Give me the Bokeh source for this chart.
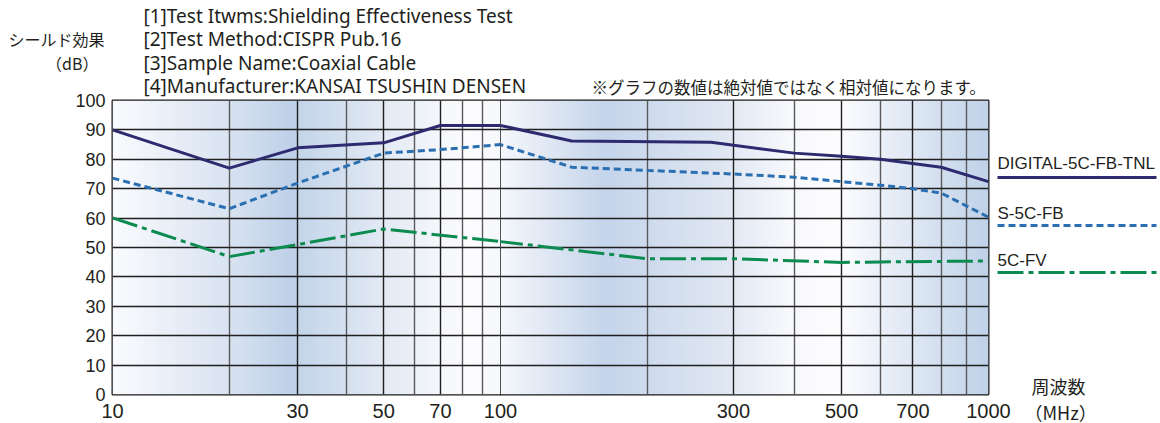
import numpy as np
from bokeh.plotting import figure
from bokeh.layouts import row
from bokeh.models import FixedTicker, Range1d, Grid, BasicTickFormatter
from bokeh.core.properties import value
from bokeh.embed import file_html
from bokeh.resources import INLINE

# ---------------- data ----------------
series_names = ["DIGITAL-5C-FB-TNL", "S-5C-FB", "5C-FV"]
digital_freq = [10, 20, 30, 50, 70, 100, 140, 270, 400, 500, 600, 800, 1000]
digital_db = [90.0, 77.0, 83.9, 85.6, 91.5, 91.5, 86.2, 85.8, 82.1, 81.0, 80.0, 77.3, 72.4]
s5cfb_freq = [10, 20, 30, 50, 70, 100, 140, 300, 400, 500, 600, 700, 800, 1000]
s5cfb_db = [73.6, 63.2, 71.9, 82.1, 83.3, 85.0, 77.3, 75.0, 73.9, 72.4, 71.2, 70.0, 68.5, 60.3]
fv_freq = [10, 20, 30, 50, 100, 200, 300, 500, 600, 1000]
fv_db = [60.1, 46.9, 51.0, 56.3, 52.0, 46.2, 46.2, 44.9, 45.1, 45.4]

x_ticks_low = [10, 30, 50, 70, 100]
x_minor_low = [20, 40, 60, 80, 90]
x_ticks_high = [300, 500, 700, 1000]
x_minor_high = [200, 400, 600, 800, 900]
y_ticks = [0, 10, 20, 30, 40, 50, 60, 70, 80, 90, 100]

header_lines = [
    "[1]Test Itwms:Shielding Effectiveness Test",
    "[2]Test Method:CISPR Pub.16",
    "[3]Sample Name:Coaxial Cable",
    "[4]Manufacturer:KANSAI TSUSHIN DENSEN",
]
y_title = ["シールド効果", "（dB）"]
x_title = ["周波数", "（MHz）"]
note_text = "※グラフの数値は絶対値ではなく相対値になります。"

# ---------------- style ----------------
colors = ["#2d2a70", "#2a6fb2", "#0b8b4f"]
dashes = ["solid", "7 4", "26 5 5 5"]
TXT = "#231f20"
JP = "Noto Sans CJK JP"
LAT = "Liberation Sans"
HDR = "Noto Sans"

W, H = 1160, 423
FRAME_L, FRAME_R, FRAME_T, FRAME_B = 112, 988, 100, 394
SPLIT = 500  # canvas x of 100 MHz

# background gradient stops (canvas px, rgb)
stops = [(112, (250, 251, 254)), (226, (218, 228, 242)), (292, (190, 209, 233)),
         (300, (197, 214, 235)), (386, (228, 235, 245)), (443, (246, 248, 252)),
         (470, (253, 253, 255)), (500, (246, 248, 252)), (605, (197, 213, 235)),
         (718, (222, 230, 242)), (790, (248, 249, 253)), (838, (253, 253, 255)),
         (988, (192, 210, 233))]


def gradient(px0, px1):
    xs = np.arange(px0, px1) + 0.5
    sp = np.array([s[0] for s in stops], float)
    cols = np.array([s[1] for s in stops], float)
    img = np.empty((2, len(xs)), dtype=np.uint32)
    view = img.view(dtype=np.uint8).reshape((2, len(xs), 4))
    for ch in range(3):
        view[:, :, ch] = np.interp(xs, sp, cols[:, ch]).astype(np.uint8)[None, :]
    view[:, :, 3] = 255
    return img


# ---- overlay figure for the free texts and legend (canvas pixel coordinates) ----
p0 = figure(width=W, height=H, output_backend="svg", toolbar_location=None,
            x_range=Range1d(0, W), y_range=Range1d(H, 0),
            x_axis_location=None, y_axis_location=None,
            min_border=0, min_border_left=0, min_border_right=0,
            min_border_top=0, min_border_bottom=0)
if "frame_align" in p0.properties():
    p0.frame_align = False
p0.grid.visible = False
p0.outline_line_color = None
p0.border_fill_color = None
p0.background_fill_color = None

common = dict(output_backend="svg", toolbar_location=None, x_axis_type="log",
              y_range=Range1d(0, 100), height=H, min_border_top=FRAME_T,
              min_border_bottom=H - FRAME_B)

p1 = figure(width=W, x_range=Range1d(10, 100),
            min_border_left=FRAME_L, min_border_right=W - SPLIT, **common)
p1.margin = (0, 0, 0, -W)
p2 = figure(width=W - SPLIT, x_range=Range1d(100, 1000), min_border_left=0,
            min_border_right=W - FRAME_R, y_axis_location=None, **common)
p2.margin = (0, 0, 0, -(W - SPLIT))

for p in (p1, p2):
    p.border_fill_color = None
    p.background_fill_color = None

r1 = p1.image_rgba(image=[gradient(FRAME_L, SPLIT)], x=10, y=0, dw=90, dh=100)
r2 = p2.image_rgba(image=[gradient(SPLIT, FRAME_R)], x=100, y=0, dw=900, dh=100)
r1.level = "image"
r2.level = "image"

for p, ticks, minor in ((p1, x_ticks_low, x_minor_low), (p2, x_ticks_high, x_minor_high)):
    p.outline_line_color = "#1a1a1a"
    p.outline_line_width = 2
    p.xaxis.ticker = FixedTicker(ticks=ticks, minor_ticks=minor)
    p.xaxis.formatter = BasicTickFormatter()
    p.xaxis.axis_line_color = None
    p.xaxis.major_tick_line_color = None
    p.xaxis.minor_tick_line_color = None
    p.xaxis.major_tick_out = 0
    p.xaxis.major_label_standoff = 5
    p.xaxis.major_label_text_font = LAT
    p.xaxis.major_label_text_font_size = "20px"
    p.xaxis.major_label_text_color = TXT
    p.xgrid.grid_line_color = "#1f1f1f"
    p.xgrid.grid_line_width = 1.4
    p.xgrid.minor_grid_line_color = "#5a5a5a"
    p.xgrid.minor_grid_line_width = 1.4

p1.yaxis.ticker = FixedTicker(ticks=y_ticks)
p1.yaxis.axis_line_color = None
p1.yaxis.major_tick_line_color = None
p1.yaxis.minor_tick_line_color = None
p1.yaxis.major_tick_out = 0
p1.yaxis.major_label_standoff = 7
p1.yaxis.major_label_text_font = LAT
p1.yaxis.major_label_text_font_size = "18px"
p1.yaxis.major_label_text_color = TXT
p1.ygrid.grid_line_color = "#1f1f1f"
p1.ygrid.grid_line_width = 1.4

p2.ygrid.visible = False
p2.add_layout(Grid(dimension=1, ticker=FixedTicker(ticks=y_ticks), grid_line_color="#1f1f1f",
                   grid_line_width=1.4))

series = [(digital_freq, digital_db), (s5cfb_freq, s5cfb_db), (fv_freq, fv_db)]
for p in (p1, p2):
    for (fx, fy), c, d in zip(series, colors, dashes):
        p.line(fx, fy, line_color=c, line_width=3, line_dash=d, line_join="round")


def lab(texts, xs, ys, size, font=JP, align="left"):
    p0.text(x=xs, y=ys, text=texts, text_font=value(font), text_font_size=size,
            text_color=TXT, text_baseline="middle", text_align=align)


lab(header_lines, [143] * 4, [15 + i * 23.5 for i in range(4)], "19px", font=HDR)
lab([y_title[0]], [8], [38], "16px")
lab([y_title[1]], [98], [62], "16px", align="right")
lab([note_text], [591], [86], "16.5px")
lab([x_title[0]], [1031], [385], "18px")
lab([x_title[1]], [1024], [411], "18px")

leg_text_y = [163, 213, 260]
leg_line_y = [177, 225, 272]
lab(series_names, [997] * 3, leg_text_y, "17px", font=LAT)
for ly, c, d in zip(leg_line_y, colors, dashes):
    p0.line([997, 1156], [ly, ly], line_color=c, line_width=3, line_dash=d)

layout = row(p0, p1, p2)
open("out.html", "w").write(file_html(layout, INLINE))
